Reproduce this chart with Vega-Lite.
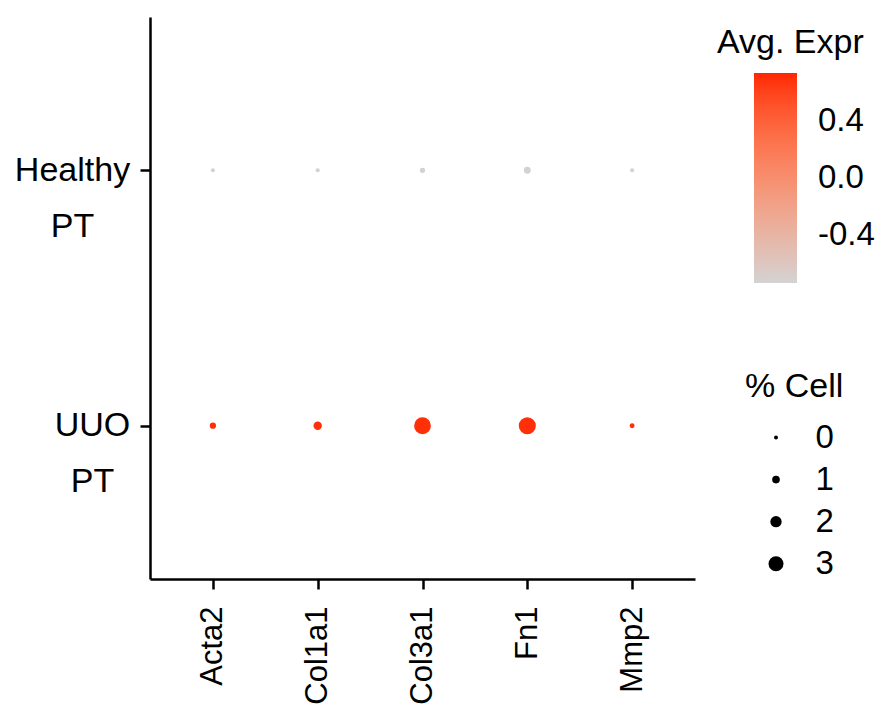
{
  "$schema": "https://vega.github.io/schema/vega-lite/v6.json",
  "width": 545,
  "height": 562,
  "autosize": "none",
  "padding": {"left": 150, "top": 17, "right": 186, "bottom": 130},
  "background": "white",
  "data": {
    "values": [
      {"gene": "Acta2", "group": "Healthy PT", "avg": -0.7071, "pct": 0.02},
      {"gene": "Col1a1", "group": "Healthy PT", "avg": -0.7071, "pct": 0.02},
      {"gene": "Col3a1", "group": "Healthy PT", "avg": -0.7071, "pct": 0.27},
      {"gene": "Fn1", "group": "Healthy PT", "avg": -0.7071, "pct": 0.74},
      {"gene": "Mmp2", "group": "Healthy PT", "avg": -0.7071, "pct": 0.02},
      {"gene": "Acta2", "group": "UUO PT", "avg": 0.7071, "pct": 0.54},
      {"gene": "Col1a1", "group": "UUO PT", "avg": 0.7071, "pct": 1.17},
      {"gene": "Col3a1", "group": "UUO PT", "avg": 0.7071, "pct": 3.46},
      {"gene": "Fn1", "group": "UUO PT", "avg": 0.7071, "pct": 3.54},
      {"gene": "Mmp2", "group": "UUO PT", "avg": 0.7071, "pct": 0.19}
    ]
  },
  "mark": {"type": "point", "filled": true, "opacity": 1, "strokeWidth": 0},
  "encoding": {
    "x": {
      "field": "gene",
      "type": "nominal",
      "sort": ["Acta2", "Col1a1", "Col3a1", "Fn1", "Mmp2"],
      "scale": {"type": "point", "padding": 0.6},
      "axis": {
        "title": null,
        "labelAngle": 270,
        "labelFontSize": 31,
        "labelPadding": 17
      }
    },
    "y": {
      "field": "group",
      "type": "nominal",
      "sort": ["Healthy PT", "UUO PT"],
      "scale": {"type": "point", "padding": 0.6},
      "axis": {
        "title": null,
        "labelFontSize": 34,
        "labelAlign": "center",
        "labelPadding": {"condition": {"test": "datum.value == 'Healthy PT'", "value": 68}, "value": 48},
        "labelLineHeight": 56,
        "labelBaseline": "top",
        "labelOffset": -17,
        "labelExpr": "split(datum.label, ' ')"
      }
    },
    "color": {
      "field": "avg",
      "type": "quantitative",
      "title": "Avg. Expr",
      "scale": {"domain": [-0.742, 0.742], "range": ["#d3d3d3", "#ff2600"], "interpolate": "lab"},
      "legend": {
        "orient": "none",
        "legendX": 567,
        "legendY": 9,
        "direction": "vertical",
        "gradientLength": 210,
        "gradientThickness": 43,
        "gradientStrokeWidth": 0,
        "values": [-0.4, 0, 0.4],
        "format": ".1f",
        "labelExpr": "replace(datum.label, '\u2212', '-')",
        "labelFontSize": 33,
        "labelOffset": 21,
        "titleFontSize": 34,
        "titlePadding": 13,
        "encoding": {
          "title": {"dx": {"value": -37}}
        }
      }
    },
    "size": {
      "field": "pct",
      "type": "quantitative",
      "title": "% Cell",
      "scale": {"domain": [0, 1, 2, 3, 4], "range": [16, 58.8, 128.6, 225.3, 349]},
      "legend": {
        "orient": "none",
        "legendX": 595,
        "legendY": 353,
        "values": [0, 1, 2, 3],
        "symbolFillColor": "black",
        "symbolStrokeWidth": 0,
        "symbolType": "circle",
        "symbolOffset": 14.5,
        "labelFontSize": 33,
        "labelOffset": 23,
        "rowPadding": 8.1,
        "titleFontSize": 34,
        "titlePadding": 17
      }
    }
  },
  "config": {
    "view": {"stroke": null},
    "font": "Liberation Sans",
    "axis": {
      "domainColor": "black",
      "domainWidth": 2.5,
      "tickColor": "black",
      "tickWidth": 2.5,
      "tickSize": 10,
      "labelColor": "black",
      "grid": false,
      "labelFont": "Liberation Sans"
    },
    "legend": {
      "labelColor": "black",
      "titleColor": "black",
      "labelFont": "Liberation Sans",
      "titleFont": "Liberation Sans",
      "titleFontWeight": "normal"
    }
  }
}
